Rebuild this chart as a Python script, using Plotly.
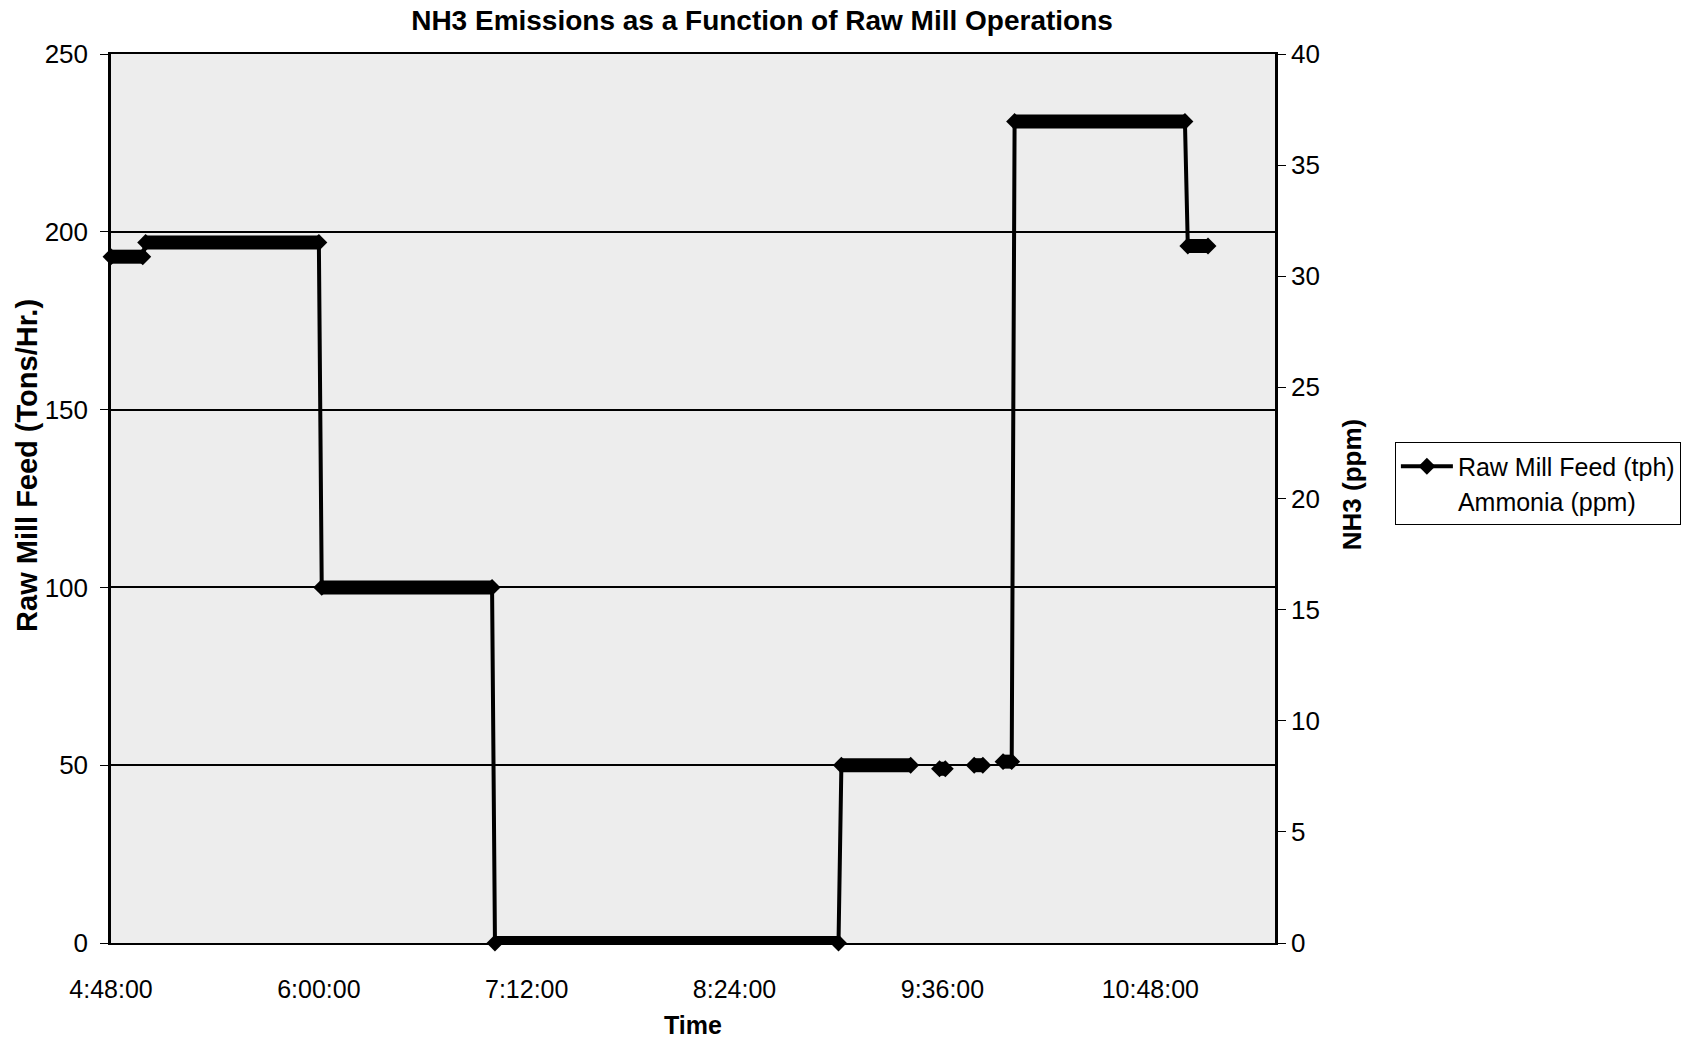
import plotly.graph_objects as go

# ---- data ----
DAY = "2000-01-01 "
run_start = ["04:48", "05:00", "06:01", "07:01", "09:01", "09:35", "09:47", "09:57", "10:01", "11:01"]
run_end   = ["04:59", "06:00", "07:00", "09:00", "09:25", "09:37", "09:50", "10:00", "11:00", "11:08"]
run_value = [193, 197, 100, 0, 50, 49, 50, 51, 231, 196]
run_connected_to_previous = [False, True, True, True, True, False, False, False, True, True]

ammonia_time = [None]
ammonia_ppm = [None]

x_ticks = ["04:48", "06:00", "07:12", "08:24", "09:36", "10:48"]
x_tick_text = ["4:48:00", "6:00:00", "7:12:00", "8:24:00", "9:36:00", "10:48:00"]
x_range = ["04:48:00", "11:31:12"]

# ---- build traces ----
feed_x, feed_y = [], []
bar_x, bar_y = [], []
for s, e, v, c in zip(run_start, run_end, run_value, run_connected_to_previous):
    if feed_x and not c:
        feed_x.append(None); feed_y.append(None)
    feed_x += [DAY + s, DAY + e]
    feed_y += [v, v]
    if bar_x:
        bar_x.append(None); bar_y.append(None)
    bar_x += [DAY + s, DAY + e]
    bar_y += [v, v]

FONT = "Liberation Sans, Arial, sans-serif"

fig = go.Figure()
# thick body of the dense marker runs
fig.add_trace(go.Scatter(x=bar_x, y=bar_y, mode="lines", line=dict(color="black", width=14),
                         connectgaps=False, showlegend=False, hoverinfo="skip", cliponaxis=False))
fig.add_trace(go.Scatter(x=feed_x, y=feed_y, mode="lines+markers", name="Raw Mill Feed (tph)",
                         line=dict(color="black", width=4),
                         marker=dict(symbol="diamond", size=13, color="black"),
                         connectgaps=False, cliponaxis=False))
fig.add_trace(go.Scatter(x=ammonia_time, y=ammonia_ppm, mode="lines", name="Ammonia (ppm)",
                         line=dict(color="rgba(0,0,0,0)", width=2), yaxis="y2"))

fig.update_layout(
    width=1699, height=1042,
    margin=dict(l=111, r=424, t=54, b=99),
    paper_bgcolor="white",
    plot_bgcolor="#ededed",
    font=dict(family=FONT, color="black", size=24),
    title=dict(text="<b>NH3 Emissions as a Function of Raw Mill Operations</b>",
               x=0.4485, xref="container", xanchor="center",
               y=0.981, yref="container", yanchor="middle",
               font=dict(size=28, family=FONT, color="black")),
    xaxis=dict(type="date", range=[DAY + x_range[0], DAY + x_range[1]],
               tickvals=[DAY + t for t in x_ticks], ticktext=x_tick_text,
               showgrid=False, showline=True, linecolor="black", linewidth=1.5, mirror=True,
               ticks="", ticklabelstandoff=23, tickfont=dict(size=25),
               title=dict(text="<b>Time</b>", font=dict(size=25), standoff=15),
               zeroline=False, automargin=False),
    yaxis=dict(range=[0, 250], dtick=50, showgrid=True, gridcolor="black", gridwidth=1.5,
               showline=True, linecolor="black", linewidth=2.5,
               ticks="outside", ticklen=8, tickcolor="black", tickfont=dict(size=26),
               ticklabelstandoff=7, zeroline=False, automargin=False),
    yaxis2=dict(range=[0, 40], dtick=5, overlaying="y", side="right", showgrid=False,
                showline=True, linecolor="black", linewidth=2.5,
                ticks="outside", ticklen=8, tickcolor="black", tickfont=dict(size=26),
                zeroline=False, automargin=False),
    legend=dict(x=1.103, y=0.563, xanchor="left", yanchor="top",
                bgcolor="white", bordercolor="black", borderwidth=1,
                font=dict(size=25, family=FONT, color="black"),
                itemwidth=52, tracegroupgap=0),
    showlegend=True,
    annotations=[
        dict(text="<b>Raw Mill Feed (Tons/Hr.)</b>", textangle=-90, xref="paper", yref="paper",
             x=-0.0722, y=0.5377, xanchor="center", yanchor="middle", showarrow=False,
             font=dict(size=29, family=FONT, color="black")),
        dict(text="<b>NH3 (ppm)</b>", textangle=-90, xref="paper", yref="paper",
             x=1.0662, y=0.515, xanchor="center", yanchor="middle", showarrow=False,
             font=dict(size=26, family=FONT, color="black")),
    ],
)

fig.write_html("out.html", post_script="document.body.style.margin='0';")
